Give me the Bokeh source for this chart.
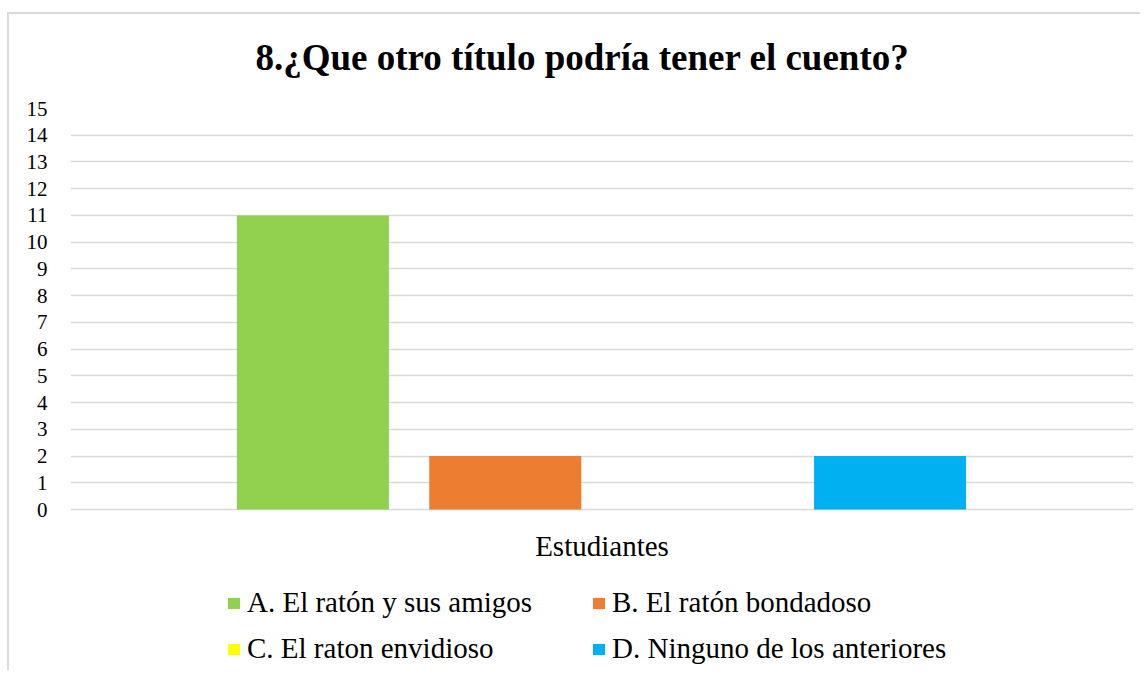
from bokeh.plotting import figure
from bokeh.models import FactorRange, FixedTicker, Legend, LegendItem, Range1d
from bokeh.transform import dodge
from bokeh.embed import file_html
from bokeh.resources import INLINE
from bokeh.core.properties import value

title_text = "8.¿Que otro título podría tener el cuento?"
categories = ["Estudiantes"]
series = ["A. El ratón y sus amigos", "B. El ratón bondadoso",
          "C. El raton envidioso", "D. Ninguno de los anteriores"]
values = [11, 2, 0, 2]
colors = ["#92D050", "#ED7D31", "#FFFF00", "#00B0F0"]
offsets = [-0.272, -0.091, 0.090, 0.271]
y_ticks = list(range(0, 16))

FONT = "Liberation Serif"

W, H = 1140, 670
FL, FR, FT = 70, 1133, 108      # frame left/right/top in px
ZERO = 509                      # px of value 0
ppu = (ZERO - FT) / 15.0        # px per unit
y_start = -(H - ZERO) / ppu

p = figure(width=W, height=H, output_backend="svg", toolbar_location=None,
           x_range=FactorRange(factors=categories, range_padding=0),
           y_range=Range1d(y_start, 15), x_axis_location=None,
           min_border_left=FL, min_border_right=W - FR, min_border_top=FT,
           min_border_bottom=0)

# chart-area border (left and top edges), drawn behind a transparent canvas border
p.styles = {
    "background-color": "white",
    "background-image": "linear-gradient(#d9d9d9, #d9d9d9), linear-gradient(#d9d9d9, #d9d9d9)",
    "background-position": "7px 12px, 7px 12px",
    "background-size": "2px 700px, 1200px 2px",
    "background-repeat": "no-repeat, no-repeat",
}

p.title.text = title_text
p.title.text_font = FONT
p.title.text_font_size = "37px"
p.title.text_font_style = "bold"
p.title.align = "left"
p.title.text_color = "#000000"
p.title.standoff = 61
p.title.offset = 185

p.outline_line_color = None
p.background_fill_color = "white"
p.border_fill_alpha = 0

renderers = []
for s, v, c, o in zip(series, values, colors, offsets):
    r = p.vbar(x=dodge("cat", o, range=p.x_range), top="val", width=0.143,
               source=dict(cat=categories, val=[v]), fill_color=c, line_color=None)
    renderers.append((s, r))

# category label under the bars
p.text(x=categories, y=[-36 / ppu], text=categories, text_align="center",
       text_baseline="middle", text_font=value(FONT), text_font_size="29px",
       text_color="#000000")

p.yaxis.ticker = FixedTicker(ticks=y_ticks)
p.yaxis.axis_line_color = None
p.yaxis.major_tick_line_color = None
p.yaxis.minor_tick_line_color = None
p.yaxis.major_label_text_font = FONT
p.yaxis.major_label_text_font_size = "21px"
p.yaxis.major_label_text_color = "#000000"
p.yaxis.major_label_standoff = 17

p.xgrid.grid_line_color = None
p.ygrid.grid_line_color = "#d9d9d9"
p.ygrid.grid_line_width = 1.5
p.ygrid.ticker = FixedTicker(ticks=y_ticks)

legend = Legend(items=[LegendItem(label=s, renderers=[r]) for s, r in renderers],
                orientation="horizontal", ncols=2,
                location=(156, 5),
                glyph_width=15, glyph_height=14, label_standoff=6,
                label_width=331, spacing=13, padding=0, margin=0,
                border_line_color=None, background_fill_alpha=0,
                label_text_font=FONT, label_text_font_size="29px",
                label_text_color="#000000")
p.add_layout(legend, "center")

open("out.html", "w").write(file_html(p, INLINE))
